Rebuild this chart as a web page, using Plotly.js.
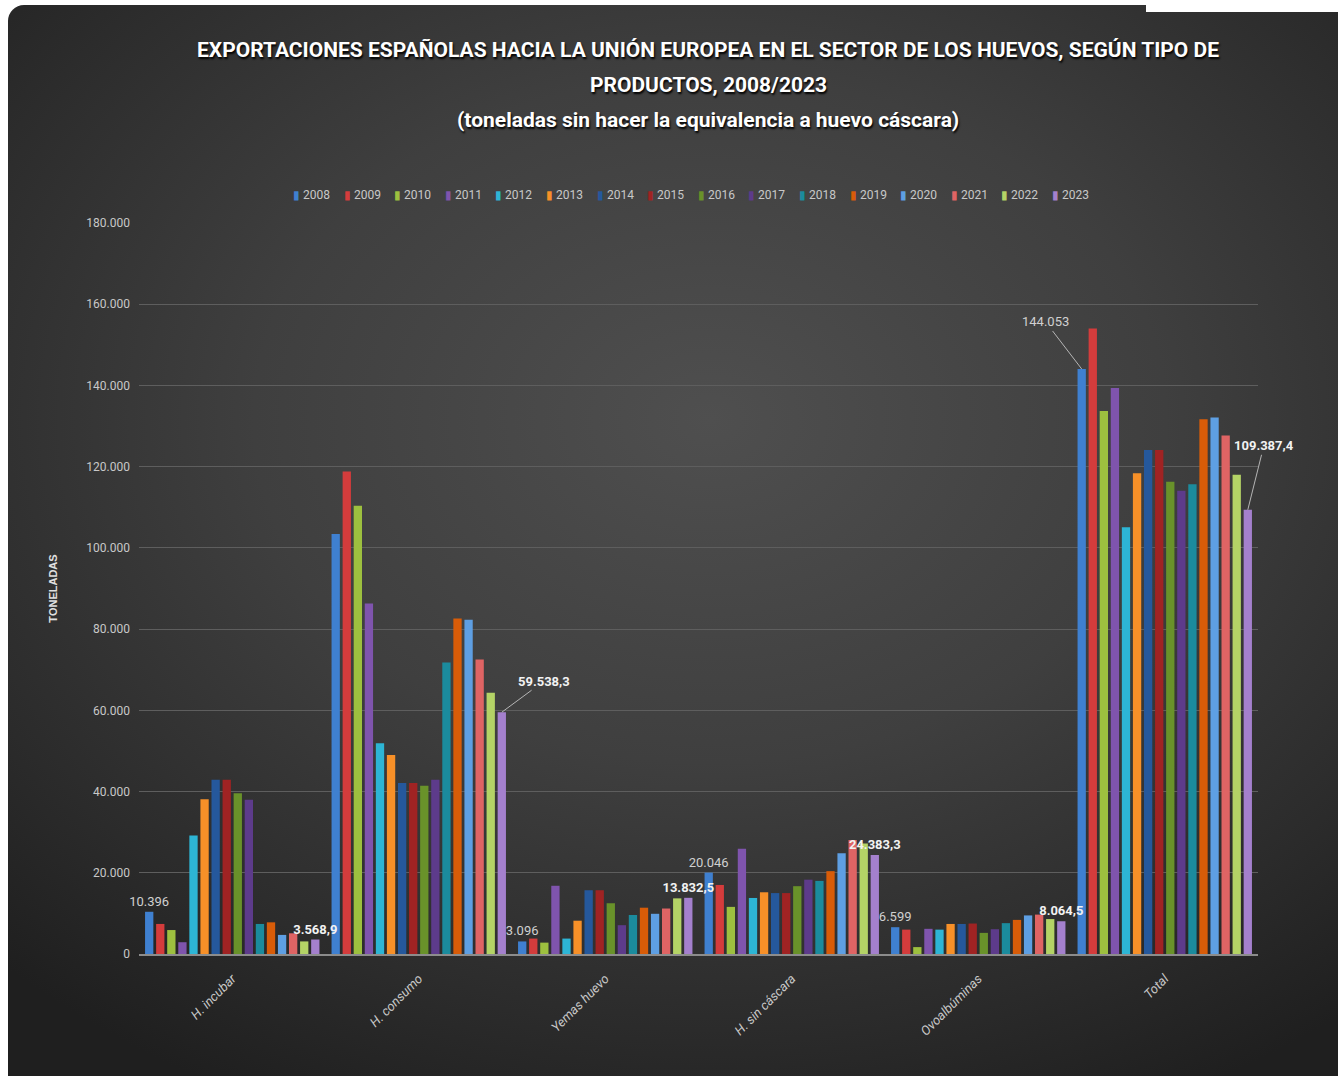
<!DOCTYPE html>
<html>
<head>
<meta charset="utf-8">
<script src="https://cdn.plot.ly/plotly-3.0.1.min.js"></script>
<style>
  html, body { margin: 0; padding: 0; background: #ffffff; }
  #wrap { position: relative; width: 1338px; height: 1076px; overflow: hidden; background: #ffffff; }
  #bg { position: absolute; left: 8px; top: 5px; width: 1350px; height: 1090px; border-radius: 16px;
        background: radial-gradient(ellipse 75% 70% at 52% 38%, #4f4f4f 0%, #3f3f3f 45%, #2b2b2b 80%, #1f1f1f 100%); }
  #notch { position: absolute; left: 1146px; top: 0; width: 200px; height: 12px; background: #ffffff; }
  #chart { position: absolute; left: 0; top: 0; width: 1338px; height: 1076px; }
</style>
</head>
<body>
<div id="wrap">
  <div id="bg"></div>
  <div id="notch"></div>
  <div id="chart"></div>
</div>
<script>
// ---- data (toneladas) ----
const categories = ["H. incubar", "H. consumo", "Yemas huevo", "H. sin cáscara", "Ovoalbúminas", "Total"];
const years = ["2008","2009","2010","2011","2012","2013","2014","2015","2016","2017","2018","2019","2020","2021","2022","2023"];

const incubar      = [10396, 7400, 5900, 2900, 29200, 38100, 42900, 42900, 39600, 38000, 7400, 7800, 4700, 5100, 3100, 3568.9];
const consumo      = [103400, 118800, 110400, 86300, 51900, 49000, 42100, 42100, 41400, 42900, 71800, 82600, 82300, 72500, 64300, 59538.3];
const yemas        = [3096, 3800, 2800, 16800, 3800, 8200, 15700, 15700, 12500, 7100, 9600, 11400, 9900, 11200, 13700, 13832.5];
const sinCascara   = [20046, 17000, 11600, 25900, 13800, 15200, 15000, 15000, 16700, 18300, 18000, 20400, 24800, 28100, 27200, 24383.3];
const ovoalbuminas = [6599, 6000, 1700, 6200, 6000, 7400, 7400, 7500, 5200, 6100, 7600, 8400, 9500, 9700, 8600, 8064.5];
const total        = [144053, 154000, 133700, 139400, 105100, 118400, 124100, 124100, 116300, 114100, 115700, 131700, 132100, 127700, 118000, 109387.4];

const yTickVals = [0, 20000, 40000, 60000, 80000, 100000, 120000, 140000, 160000, 180000];

// data labels shown on the chart
const labels2008 = ["10.396", "", "3.096", "20.046", "6.599", ""];
const labels2023 = ["3.568,9", "", "13.832,5", "24.383,3", "8.064,5", ""];
const calloutLabels = [
  {year: "2023", cat: "H. consumo", text: "59.538,3"},
  {year: "2008", cat: "Total", text: "144.053"},
  {year: "2023", cat: "Total", text: "109.387,4"}
];

const colors = ["#3f80d0","#d43c3c","#9dc03f","#7f54ad","#2db5d5","#f79028","#25589c","#a02323",
                "#69922a","#5d3b8b","#1b8b9d","#d85c08","#5e9fe3","#df6464","#b4d366","#a480cd"];

const seriesByCat = [incubar, consumo, yemas, sinCascara, ovoalbuminas, total];

const FONT = "Roboto, 'Open Sans', sans-serif";

const traces = years.map((yr, i) => {
  const t = {
    type: "bar",
    name: yr,
    x: categories,
    y: seriesByCat.map(arr => arr[i]),
    marker: { color: colors[i], line: { width: 0 } },
    hoverinfo: "x+y+name"
  };
  if (yr === "2008") {
    t.text = labels2008;
    t.textposition = "outside";
    t.constraintext = "none";
    t.cliponaxis = false;
    t.textfont = { family: FONT, size: 13, color: "#d0d0d0" };
  } else if (yr === "2023") {
    t.text = labels2023;
    t.textposition = "outside";
    t.constraintext = "none";
    t.cliponaxis = false;
    t.textfont = { family: FONT, size: 13, color: "#f2f2f2", weight: "bold" };
  }
  return t;
});

// plot-area geometry (pixels) used to place title / legend text
const PLOT_L = 139, PLOT_W = 1119, PLOT_B = 954, PLOT_H = 731;
const px2x = p => (p - PLOT_L) / PLOT_W;
const py2y = p => (PLOT_B - p) / PLOT_H;

const BARGAP = 0.05;
const slot = (1 - BARGAP) / years.length;
function barX(catName, yr) {
  const ci = categories.indexOf(catName);
  const k = years.indexOf(yr);
  return ci - (1 - BARGAP) / 2 + (k + 0.5) * slot;
}
function valueOf(catName, yr) {
  return seriesByCat[categories.indexOf(catName)][years.indexOf(yr)];
}
const calloutOffsets = {"59.538,3": [42, -31], "144.053": [-36, -47], "109.387,4": [16, -64]};

const annotations = [];
const titleLines = [
  {text: "EXPORTACIONES ESPAÑOLAS HACIA LA UNIÓN EUROPEA EN EL SECTOR DE LOS HUEVOS, SEGÚN TIPO DE", py: 50},
  {text: "PRODUCTOS, 2008/2023", py: 85},
  {text: "(toneladas sin hacer la equivalencia a huevo cáscara)", py: 120}
];
titleLines.forEach(l => annotations.push({
  xref: "paper", yref: "paper", x: px2x(708), y: py2y(l.py), xanchor: "center", yanchor: "middle",
  text: "<b>" + l.text + "</b>", showarrow: false,
  font: { family: FONT, size: 21, color: "#ffffff", shadow: "1px 2px 2px #000000" }
}));

// legend row
years.forEach((yr, i) => annotations.push({
  xref: "paper", yref: "paper", x: px2x(291 + i * 50.6), y: py2y(195), xanchor: "left", yanchor: "middle",
  text: '<span style="color:' + colors[i] + '">▮</span> ' + yr, showarrow: false,
  font: { family: FONT, size: 12, color: "#c8c8c8" }
}));

calloutLabels.forEach(c => {
  const off = calloutOffsets[c.text];
  annotations.push({
    xref: "x", yref: "y", x: barX(c.cat, c.year), y: valueOf(c.cat, c.year),
    text: c.year === "2023" ? "<b>" + c.text + "</b>" : c.text,
    showarrow: true, arrowhead: 0, arrowwidth: 1, arrowcolor: "#b5b5b5",
    ax: off[0], ay: off[1], standoff: 0,
    font: { family: FONT, size: 13, color: c.year === "2023" ? "#f2f2f2" : "#d0d0d0" }
  });
});

const layout = {
  width: 1338, height: 1076,
  paper_bgcolor: "rgba(0,0,0,0)", plot_bgcolor: "rgba(0,0,0,0)",
  margin: { l: PLOT_L, r: 1338 - PLOT_L - PLOT_W, t: PLOT_B - PLOT_H, b: 1076 - PLOT_B },
  separators: ",.",
  barmode: "group", bargap: BARGAP, bargroupgap: 0.25,
  showlegend: false,
  xaxis: {
    type: "category", range: [-0.5, categories.length - 0.5],
    showgrid: false, showline: true, linecolor: "#8c8c8c", linewidth: 2,
    tickangle: -45, ticks: "", ticklabelstandoff: 10,
    tickfont: { family: FONT, size: 13, color: "#c8c8c8", style: "italic" },
    fixedrange: true
  },
  yaxis: {
    range: [0, 180000], tickvals: yTickVals, tickformat: ",d",
    showgrid: true, gridcolor: "#5e5e5e", gridwidth: 1, zeroline: false,
    tickfont: { family: FONT, size: 12, color: "#c8c8c8" },
    ticklabelstandoff: 8,
    title: { text: "<b>TONELADAS</b>", standoff: 26, font: { family: "'Liberation Sans', Arial, sans-serif", size: 11, color: "#e0e0e0" } },
    fixedrange: true
  },
  annotations: annotations,
  font: { family: FONT, color: "#c8c8c8" }
};

Plotly.newPlot("chart", traces, layout, { displayModeBar: false, staticPlot: true });
</script>
</body>
</html>
